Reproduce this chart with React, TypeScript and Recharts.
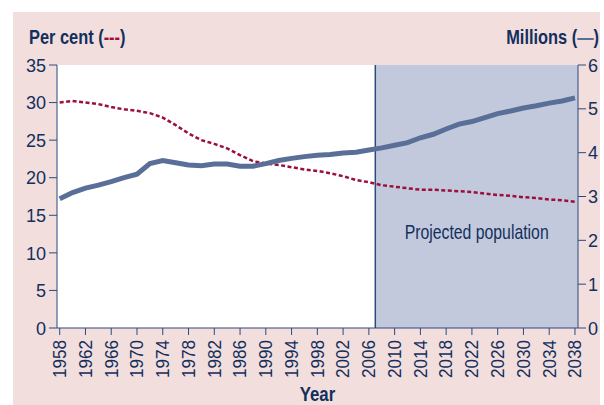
import React from 'react';
import {
  LineChart,
  Line,
  XAxis,
  YAxis,
  CartesianGrid,
  ReferenceArea,
  ReferenceLine,
} from 'recharts';

// Years shown (every 2 years), series values
const years = [
  1958, 1960, 1962, 1964, 1966, 1968, 1970, 1972, 1974, 1976, 1978, 1980, 1982, 1984,
  1986, 1988, 1990, 1992, 1994, 1996, 1998, 2000, 2002, 2004, 2006, 2008, 2010, 2012,
  2014, 2016, 2018, 2020, 2022, 2024, 2026, 2028, 2030, 2032, 2034, 2036, 2038,
];

// Per cent (left axis, dashed)
const percentValues = [
  30.0, 30.2, 30.0, 29.8, 29.4, 29.1, 28.9, 28.6, 28.0, 27.0, 25.9, 25.0, 24.5, 23.9,
  23.0, 22.2, 21.9, 21.7, 21.4, 21.1, 20.9, 20.6, 20.2, 19.7, 19.4, 19.0, 18.8, 18.6,
  18.4, 18.4, 18.3, 18.2, 18.1, 17.9, 17.7, 17.6, 17.4, 17.3, 17.1, 17.0, 16.8,
];

// Millions (right axis, solid)
const millionsValues = [
  2.95, 3.09, 3.19, 3.26, 3.34, 3.43, 3.51, 3.75, 3.82, 3.77, 3.72, 3.7, 3.74, 3.74,
  3.69, 3.69, 3.75, 3.82, 3.87, 3.91, 3.94, 3.96, 3.99, 4.01, 4.06, 4.11, 4.17, 4.23,
  4.34, 4.42, 4.54, 4.65, 4.71, 4.8, 4.89, 4.95, 5.02, 5.07, 5.13, 5.18, 5.25,
];

const yearTicks = [
  1958, 1962, 1966, 1970, 1974, 1978, 1982, 1986, 1990, 1994, 1998, 2002, 2006, 2010,
  2014, 2018, 2022, 2026, 2030, 2034, 2038,
];
const percentTicks = [0, 5, 10, 15, 20, 25, 30, 35];
const millionsTicks = [0, 1, 2, 3, 4, 5, 6];
const projectionStart = 2007;

const data = years.map((year, i) => ({
  year,
  percent: percentValues[i],
  millions: millionsValues[i],
}));

const FONT = '"Liberation Sans", Arial, sans-serif';
const NAVY = '#132f5c';
const AXIS = '#2c4a7c';
const RED = '#9c0f3c';
const BLUE = '#5a6f98';

// condensed look: the original uses a narrow typeface
const YearTick = ({ x, y, payload }: any) => (
  <g transform={`translate(${x},${y}) rotate(-90) scale(0.9,1)`}>
    <text textAnchor="end" dominantBaseline="central" fill={NAVY} fontSize={19} fontFamily={FONT}>
      {payload.value}
    </text>
  </g>
);

const ValueTick = ({ x, y, payload, textAnchor }: any) => (
  <g transform={`translate(${x},${y}) scale(0.95,1)`}>
    <text textAnchor={textAnchor} dominantBaseline="central" fill={NAVY} fontSize={19} fontFamily={FONT}>
      {payload.value}
    </text>
  </g>
);

const ProjectedLabel = ({ viewBox }: any) => {
  const { x, y, width, height } = viewBox;
  return (
    <g transform={`translate(${x + width / 2},${y + height - 89}) scale(0.79,1)`}>
      <text textAnchor="middle" fill={NAVY} fontSize={20} fontFamily={FONT}>
        Projected population
      </text>
    </g>
  );
};

const YearLabel = ({ viewBox }: any) => {
  const { x, y, width, height } = viewBox;
  return (
    <g transform={`translate(${x + width / 2},${y + height - 4}) scale(0.8,1)`}>
      <text textAnchor="middle" fill={NAVY} fontSize={21} fontWeight="bold" fontFamily={FONT}>
        Year
      </text>
    </g>
  );
};

const titleStyle: React.CSSProperties = {
  position: 'absolute',
  top: 25,
  fontFamily: FONT,
  fontWeight: 'bold',
  fontSize: 21,
  color: NAVY,
  whiteSpace: 'nowrap',
  transform: 'scaleX(0.78)',
};

export default function App() {
  return (
    <div style={{ position: 'absolute', left: 0, top: 0, width: 604, height: 405, background: '#fff' }}>
      <div style={{ position: 'absolute', left: 13, top: 12, right: 4, bottom: 0, background: '#f2dedd' }} />

      <div style={{ ...titleStyle, left: 29, transformOrigin: 'left center' }}>
        Per cent (<span style={{ color: RED }}>---</span>)
      </div>
      <div style={{ ...titleStyle, right: 5, transformOrigin: 'right center' }}>
        Millions (<span style={{ color: BLUE }}>—</span>)
      </div>

      <div style={{ position: 'absolute', left: 0, top: 0 }}>
        <LineChart width={604} height={405} data={data} margin={{ top: 65, right: 0, bottom: 0, left: 0 }}>
          <CartesianGrid fill="#fff" horizontal={false} vertical={false} />

          <XAxis
            dataKey="year"
            type="number"
            domain={[1957.58, 2038.47]}
            ticks={yearTicks}
            interval={0}
            height={77}
            tickSize={7}
            tickMargin={5}
            stroke={AXIS}
            tickLine={{ stroke: AXIS }}
            tick={<YearTick />}
            label={<YearLabel />}
          />

          <YAxis
            yAxisId="left"
            domain={[0, 35]}
            ticks={percentTicks}
            width={57}
            tickSize={8}
            tickMargin={3}
            stroke={AXIS}
            tick={<ValueTick />}
          />

          <YAxis
            yAxisId="right"
            orientation="right"
            domain={[0, 6]}
            ticks={millionsTicks}
            width={26}
            tickSize={8}
            tickMargin={2}
            stroke={AXIS}
            tick={<ValueTick />}
          />

          {/* Área projetada */}
          <ReferenceArea
            yAxisId="left"
            x1={projectionStart}
            fill="#c3c9dc"
            fillOpacity={1}
            stroke="none"
            label={<ProjectedLabel />}
          />
          <ReferenceLine yAxisId="left" x={projectionStart} stroke={AXIS} strokeWidth={1.5} />

          <Line
            yAxisId="left"
            type="linear"
            dataKey="percent"
            stroke={RED}
            strokeWidth={2.5}
            strokeDasharray="4 2.5"
            dot={false}
            isAnimationActive={false}
          />
          <Line
            yAxisId="right"
            type="linear"
            dataKey="millions"
            stroke={BLUE}
            strokeWidth={5}
            dot={false}
            isAnimationActive={false}
          />
        </LineChart>
      </div>
    </div>
  );
}
